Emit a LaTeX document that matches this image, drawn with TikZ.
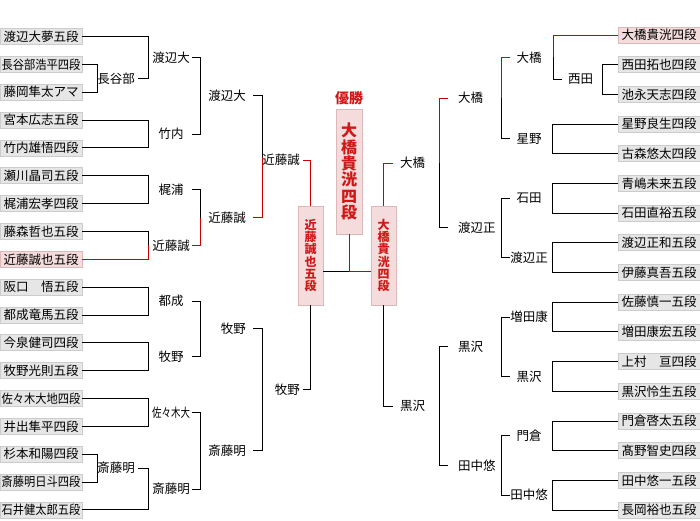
\documentclass[tikz,border=0pt]{standalone}
\usepackage{fontspec}
\usepackage{graphicx}
\usetikzlibrary{calc}
\newfontfamily\jpfont{Noto Sans CJK JP}
\definecolor{tred}{HTML}{CC0000}
\definecolor{redtext}{HTML}{D01818}
\definecolor{boxfill}{HTML}{E6E6E6}
\definecolor{boxline}{HTML}{CCCCCC}
\definecolor{pinkfill}{HTML}{F4DCDC}
\definecolor{pinkline}{HTML}{DDB8B8}

\begin{document}
\begin{tikzpicture}[
    x=1pt,
    y=-1pt,
    conn/.style={line width=1pt},
    win/.style={line width=1pt, draw=tred},
    namebox/.style={draw=boxline, fill=boxfill, line width=0.8pt, minimum width=82, minimum height=16, inner sep=0, font=\jpfont\fontsize{12.5}{14}\selectfont},
    winbox/.style={namebox, draw=pinkline, fill=pinkfill},
    res/.style={inner sep=0, minimum height=14, font=\jpfont\fontsize{12.5}{14}\selectfont},
    finalbox/.style={draw=pinkline, fill=pinkfill, line width=0.8pt, align=center, text=redtext, inner sep=0}
]

\useasboundingbox (0,0) rectangle (700,520);

\node[namebox] (L0)  at (41,36.5)   {渡辺大夢五段};
\node[namebox] (L1)  at (41,64.35)  {\scalebox{0.9}[1]{長谷部浩平四段}};
\node[namebox] (L2)  at (41,92.2)   {藤岡隼太アマ};
\node[namebox] (L3)  at (41,120.05) {宮本広志五段};
\node[namebox] (L4)  at (41,147.9)  {竹内雄悟四段};
\node[namebox] (L5)  at (41,175.75) {瀬川晶司五段};
\node[namebox] (L6)  at (41,203.6)  {梶浦宏孝四段};
\node[namebox] (L7)  at (41,231.45) {藤森哲也五段};
\node[winbox]  (L8)  at (41,259.3)  {近藤誠也五段};
\node[namebox] (L9)  at (41,287.15) {阪口　悟五段};
\node[namebox] (L10) at (41,315.0)  {都成竜馬五段};
\node[namebox] (L11) at (41,342.85) {今泉健司四段};
\node[namebox] (L12) at (41,370.7)  {牧野光則五段};
\node[namebox] (L13) at (41,398.55) {\scalebox{0.9}[1]{佐々木大地四段}};
\node[namebox] (L14) at (41,426.4)  {井出隼平四段};
\node[namebox] (L15) at (41,454.25) {杉本和陽四段};
\node[namebox] (L16) at (41,482.1)  {\scalebox{0.9}[1]{斎藤明日斗四段}};
\node[namebox] (L17) at (41,509.95) {\scalebox{0.9}[1]{石井健太郎五段}};

\node[winbox]  (R0)  at (659,35.0)  {大橋貴洸四段};
\node[namebox] (R1)  at (659,64.7)  {西田拓也四段};
\node[namebox] (R2)  at (659,94.4)  {池永天志四段};
\node[namebox] (R3)  at (659,124.1) {星野良生四段};
\node[namebox] (R4)  at (659,153.8) {古森悠太四段};
\node[namebox] (R5)  at (659,183.4) {青嶋未来五段};
\node[namebox] (R6)  at (659,213.1) {石田直裕五段};
\node[namebox] (R7)  at (659,242.8) {渡辺正和五段};
\node[namebox] (R8)  at (659,272.5) {伊藤真吾五段};
\node[namebox] (R9)  at (659,302.2) {佐藤慎一五段};
\node[namebox] (R10) at (659,331.9) {増田康宏五段};
\node[namebox] (R11) at (659,361.6) {上村　亘四段};
\node[namebox] (R12) at (659,391.3) {黒沢怜生五段};
\node[namebox] (R13) at (659,421.0) {門倉啓太五段};
\node[namebox] (R14) at (659,450.7) {髙野智史四段};
\node[namebox] (R15) at (659,480.4) {田中悠一五段};
\node[namebox] (R16) at (659,510.0) {長岡裕也五段};

\node[res, anchor=east, inner xsep=3] (hase)   at (138,78.3)  {長谷部};
\node[res, anchor=east, inner xsep=3] (saito0) at (138,468.2) {斎藤明};

\node[res, minimum width=42] (w1a) at (171,57.4)  {渡辺大};
\node[res, minimum width=42] (w1b) at (171,134.0) {竹内};
\node[res, minimum width=42] (w1c) at (171,189.7) {梶浦};
\node[res, minimum width=42] (w1d) at (171,245.4) {近藤誠};
\node[res, minimum width=42] (w1e) at (171,301.1) {都成};
\node[res, minimum width=42] (w1f) at (171,356.8) {牧野};
\node[res, minimum width=42] (w1g) at (171,412.5) {\scalebox{0.76}[1]{佐々木大}};
\node[res, minimum width=42] (w1h) at (171,489.1) {斎藤明};

\node[res, anchor=east, inner xsep=7] (w2a) at (253,95.7)   {渡辺大};
\node[res, anchor=east, inner xsep=7] (w2b) at (253,217.55) {近藤誠};
\node[res, anchor=east, inner xsep=7] (w2c) at (253,328.95) {牧野};
\node[res, anchor=east, inner xsep=7] (w2d) at (253,450.8)  {斎藤明};

\node[res, anchor=east, inner xsep=3] (w3a) at (303,160)   {近藤誠};
\node[res, anchor=east, inner xsep=3] (w3b) at (303,389.9) {牧野};

\node[res, anchor=west, inner xsep=6] (nishi) at (562,79.55) {西田};

\node[res, minimum width=38] (v1a) at (529,57.3)   {大橋};
\node[res, minimum width=38] (v1b) at (529,138.95) {星野};
\node[res, minimum width=38] (v1c) at (529,198.25) {石田};
\node[res, minimum width=38] (v1d) at (529,257.65) {渡辺正};
\node[res, minimum width=38] (v1e) at (529,317.05) {増田康};
\node[res, minimum width=38] (v1f) at (529,376.45) {黒沢};
\node[res, minimum width=38] (v1g) at (529,435.85) {門倉};
\node[res, minimum width=38] (v1h) at (529,495.2)  {田中悠};

\node[res, anchor=west, inner xsep=10] (v2a) at (448,98.15)  {大橋};
\node[res, anchor=west, inner xsep=10] (v2b) at (448,227.95) {渡辺正};
\node[res, anchor=west, inner xsep=10] (v2c) at (448,346.75) {黒沢};
\node[res, anchor=west, inner xsep=10] (v2d) at (448,465.5)  {田中悠};

\node[res, anchor=west, inner xsep=7] (v3a) at (393,163.05) {大橋};
\node[res, anchor=west, inner xsep=7] (v3b) at (393,406.1)  {黒沢};

\node[finalbox, minimum width=26, minimum height=125, font=\jpfont\bfseries\fontsize{16}{16.3}\selectfont] (champ) at (349,171.5) {大\\橋\\貴\\洸\\四\\段};
\node[finalbox, minimum width=25, minimum height=99, font=\jpfont\bfseries\fontsize{12}{12.2}\selectfont] (kondo) at (310.5,255.5) {近\\藤\\誠\\也\\五\\段};
\node[finalbox, minimum width=25, minimum height=99, font=\jpfont\bfseries\fontsize{12}{12.2}\selectfont] (ohashi) at (383.5,255.5) {大\\橋\\貴\\洸\\四\\段};
\node[inner sep=0, text=redtext, font=\jpfont\bfseries\fontsize{14}{14}\selectfont] (yusho) at (349,98) {優勝};

\draw[conn] (L0.east) -| ($(hase.east)+(10,0)$) -- (hase.east);
\draw[conn] (L1.east) -| ($(L1.east)!.5!(L2.east)+(15,0)$);
\draw[conn] (L2.east) -| ($(L1.east)!.5!(L2.east)+(15,0)$);
\draw[conn] (L3.east) -| ($(L3.east)!.5!(L4.east)+(66,0)$);
\draw[conn] (L4.east) -| ($(L3.east)!.5!(L4.east)+(66,0)$);
\draw[conn] (L5.east) -| ($(L5.east)!.5!(L6.east)+(66,0)$);
\draw[conn] (L6.east) -| ($(L5.east)!.5!(L6.east)+(66,0)$);
\draw[conn] (L7.east) -| ($(L7.east)!.5!(L8.east)+(66,0)$);
\draw[win]  (L8.east) -| ($(L7.east)!.5!(L8.east)+(66,0)$);
\draw[conn] (L9.east) -| ($(L9.east)!.5!(L10.east)+(66,0)$);
\draw[conn] (L10.east) -| ($(L9.east)!.5!(L10.east)+(66,0)$);
\draw[conn] (L11.east) -| ($(L11.east)!.5!(L12.east)+(66,0)$);
\draw[conn] (L12.east) -| ($(L11.east)!.5!(L12.east)+(66,0)$);
\draw[conn] (L13.east) -| ($(L13.east)!.5!(L14.east)+(66,0)$);
\draw[conn] (L14.east) -| ($(L13.east)!.5!(L14.east)+(66,0)$);
\draw[conn] (L15.east) -| ($(L15.east)!.5!(L16.east)+(15,0)$);
\draw[conn] (L16.east) -| ($(L15.east)!.5!(L16.east)+(15,0)$);
\draw[conn] (L17.east) -| ($(saito0.east)+(10,0)$) -- (saito0.east);

\draw[conn] (w1a.east) -| ($(w1a.east)!.5!(w1b.east)+(8,0)$);
\draw[conn] (w1b.east) -| ($(w1a.east)!.5!(w1b.east)+(8,0)$);
\draw[conn] (w1c.east) -| ($(w1c.east)!.5!(w1d.east)+(8,0)$);
\draw[win]  (w1d.east) -| ($(w1c.east)!.5!(w1d.east)+(8,0)$);
\draw[conn] (w1e.east) -| ($(w1e.east)!.5!(w1f.east)+(8,0)$);
\draw[conn] (w1f.east) -| ($(w1e.east)!.5!(w1f.east)+(8,0)$);
\draw[conn] (w1g.east) -| ($(w1g.east)!.5!(w1h.east)+(8,0)$);
\draw[conn] (w1h.east) -| ($(w1g.east)!.5!(w1h.east)+(8,0)$);

\draw[conn] (w2a.east) -| ($(w2a.east)!.5!(w2b.east)+(9,0)$);
\draw[win]  (w2b.east) -| ($(w2a.east)!.5!(w2b.east)+(9,0)$);
\draw[conn] (w2c.east) -| ($(w2c.east)!.5!(w2d.east)+(9,0)$);
\draw[conn] (w2d.east) -| ($(w2c.east)!.5!(w2d.east)+(9,0)$);

\draw[win]  (w3a.east) -| (kondo.north);
\draw[conn] (w3b.east) -| (kondo.south);

\draw[win]  (R0.west) -| ($(R0.west -| nishi.west)!.5!(nishi.west)+(-9,0)$);
\draw[conn] (nishi.west) -| ($(R0.west -| nishi.west)!.5!(nishi.west)+(-9,0)$);
\draw[conn] (R1.west) -| ($(R1.west)!.5!(R2.west)+(-15,0)$);
\draw[conn] (R2.west) -| ($(R1.west)!.5!(R2.west)+(-15,0)$);
\draw[conn] (R3.west) -| ($(R3.west)!.5!(R4.west)+(-65,0)$);
\draw[conn] (R4.west) -| ($(R3.west)!.5!(R4.west)+(-65,0)$);
\draw[conn] (R5.west) -| ($(R5.west)!.5!(R6.west)+(-65,0)$);
\draw[conn] (R6.west) -| ($(R5.west)!.5!(R6.west)+(-65,0)$);
\draw[conn] (R7.west) -| ($(R7.west)!.5!(R8.west)+(-65,0)$);
\draw[conn] (R8.west) -| ($(R7.west)!.5!(R8.west)+(-65,0)$);
\draw[conn] (R9.west) -| ($(R9.west)!.5!(R10.west)+(-65,0)$);
\draw[conn] (R10.west) -| ($(R9.west)!.5!(R10.west)+(-65,0)$);
\draw[conn] (R11.west) -| ($(R11.west)!.5!(R12.west)+(-65,0)$);
\draw[conn] (R12.west) -| ($(R11.west)!.5!(R12.west)+(-65,0)$);
\draw[conn] (R13.west) -| ($(R13.west)!.5!(R14.west)+(-65,0)$);
\draw[conn] (R14.west) -| ($(R13.west)!.5!(R14.west)+(-65,0)$);
\draw[conn] (R15.west) -| ($(R15.west)!.5!(R16.west)+(-65,0)$);
\draw[conn] (R16.west) -| ($(R15.west)!.5!(R16.west)+(-65,0)$);

\draw[win]  (v1a.west) -| ($(v1a.west)!.5!(v1b.west)+(-8,0)$);
\draw[conn] (v1b.west) -| ($(v1a.west)!.5!(v1b.west)+(-8,0)$);
\draw[conn] (v1c.west) -| ($(v1c.west)!.5!(v1d.west)+(-8,0)$);
\draw[conn] (v1d.west) -| ($(v1c.west)!.5!(v1d.west)+(-8,0)$);
\draw[conn] (v1e.west) -| ($(v1e.west)!.5!(v1f.west)+(-8,0)$);
\draw[conn] (v1f.west) -| ($(v1e.west)!.5!(v1f.west)+(-8,0)$);
\draw[conn] (v1g.west) -| ($(v1g.west)!.5!(v1h.west)+(-8,0)$);
\draw[conn] (v1h.west) -| ($(v1g.west)!.5!(v1h.west)+(-8,0)$);

\draw[win]  (v2a.west) -| ($(v2a.west)!.5!(v2b.west)+(-9,0)$);
\draw[conn] (v2b.west) -| ($(v2a.west)!.5!(v2b.west)+(-9,0)$);
\draw[conn] (v2c.west) -| ($(v2c.west)!.5!(v2d.west)+(-9,0)$);
\draw[conn] (v2d.west) -| ($(v2c.west)!.5!(v2d.west)+(-9,0)$);

\draw[win]  (v3a.west) -| (ohashi.north);
\draw[conn] (v3b.west) -| (ohashi.south);

\coordinate (junc) at ($(champ.south)+(0,37)$);
\draw[conn] (kondo.east |- junc) -- (junc);
\draw[win]  (champ.south) -- (junc) -- (ohashi.west |- junc);

\end{tikzpicture}
\end{document}
